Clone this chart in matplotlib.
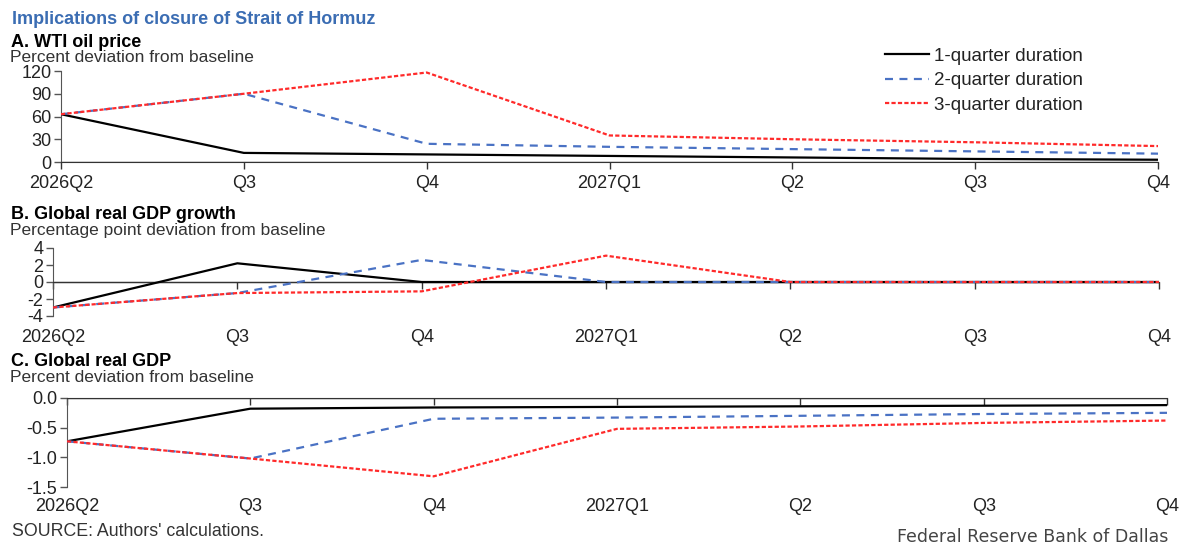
import matplotlib
matplotlib.use("Agg")
import matplotlib.pyplot as plt

plt.rcParams["font.family"] = ["Liberation Sans", "DejaVu Sans"]

quarters = ["2026Q2", "Q3", "Q4", "2027Q1", "Q2", "Q3", "Q4"]
series_names = ["1-quarter duration", "2-quarter duration", "3-quarter duration"]

# Panel A: WTI oil price, percent deviation from baseline
oil_1q = [63, 12, 10, 8, 6, 4, 3]
oil_2q = [63, 90, 24, 20, 17, 14, 11]
oil_3q = [63, 90, 118, 35, 30, 26, 21]

# Panel B: global real GDP growth, percentage point deviation from baseline
growth_1q = [-3.0, 2.2, 0.0, 0.0, 0.0, 0.0, 0.0]
growth_2q = [-3.0, -1.3, 2.6, 0.0, 0.0, 0.0, 0.0]
growth_3q = [-3.0, -1.3, -1.1, 3.1, 0.0, 0.0, 0.0]

# Panel C: global real GDP, percent deviation from baseline
gdp_1q = [-0.73, -0.18, -0.16, -0.15, -0.14, -0.13, -0.12]
gdp_2q = [-0.73, -1.02, -0.35, -0.33, -0.30, -0.27, -0.25]
gdp_3q = [-0.73, -1.02, -1.32, -0.52, -0.48, -0.42, -0.38]

oil_ticks = [0, 30, 60, 90, 120]
growth_ticks = [-4, -2, 0, 2, 4]
gdp_ticks = [-1.5, -1.0, -0.5, 0.0]

BLUE = "#4a72c4"
RED = "#ff2a2a"
TITLE_BLUE = "#3b6db3"
TEXT = "#222222"
AXIS = "#555555"

W, H = 1181, 546
fig = plt.figure(figsize=(W / 100, H / 100), dpi=100)


def px_axes(left, right, top, bottom):
    return fig.add_axes([left / W, 1 - bottom / H, (right - left) / W, (bottom - top) / H])


styles = [
    dict(color="black", lw=1.6, ls="-"),
    dict(color=BLUE, lw=1.6, ls=(0, (3.6, 2.9))),
    dict(color=RED, lw=1.6, ls=(0, (1.9, 1.0))),
]


def panel(ax, data, yticks, ylim, fmt, label_pad):
    x = list(range(len(quarters)))
    ax.axhline(0, color="#333333", lw=1.0, zorder=1)
    lines = []
    for vals, st in zip(data, styles):
        (ln,) = ax.plot(x, vals, zorder=3, **st)
        lines.append(ln)
    ax.set_xlim(0, len(quarters) - 1)
    ax.set_ylim(*ylim)
    ax.set_yticks(yticks)
    ax.set_yticklabels([fmt.format(v) for v in yticks])
    ax.set_xticks(x)
    ax.set_xticklabels(quarters)
    for s in ("top", "right"):
        ax.spines[s].set_visible(False)
    ax.spines["bottom"].set_position(("data", 0))
    ax.spines["bottom"].set_color("#333333")
    ax.spines["left"].set_color(AXIS)
    ax.tick_params(axis="y", direction="out", length=5, width=1, color=AXIS,
                   labelsize=13, labelcolor=TEXT, pad=2)
    ax.tick_params(axis="x", direction="out", length=5, width=1, color="#333333",
                   labelsize=13, labelcolor=TEXT, pad=label_pad)
    ax.patch.set_alpha(0)
    return lines


axA = px_axes(61, 1158, 71, 162)
lines = panel(axA, [oil_1q, oil_2q, oil_3q], oil_ticks, (0, 120), "{:.0f}", 4)

axB = px_axes(53, 1159, 248, 316)
panel(axB, [growth_1q, growth_2q, growth_3q], growth_ticks, (-4, 4), "{:.0f}", 29)

axC = px_axes(67, 1167, 398, 487)
panel(axC, [gdp_1q, gdp_2q, gdp_3q], gdp_ticks, (-1.5, 0.0), "{:.1f}", 67)

# Headings
fig.text(12 / W, 1 - 20 / H, "Implications of closure of Strait of Hormuz",
         color=TITLE_BLUE, fontsize=13, fontweight="bold", va="center")
for y_title, y_sub, title, sub in [
    (43, 58, "A. WTI oil price", "Percent deviation from baseline"),
    (215, 231, "B. Global real GDP growth", "Percentage point deviation from baseline"),
    (362, 378, "C. Global real GDP", "Percent deviation from baseline"),
]:
    fig.text(11 / W, 1 - y_title / H, title, color="black", fontsize=13,
             fontweight="bold", va="center")
    fig.text(10 / W, 1 - y_sub / H, sub, color="#333333", fontsize=12.5, va="center")

fig.legend(lines, series_names, loc="upper left",
           bbox_to_anchor=(868 / W, 1 - 31 / H), frameon=False, fontsize=13.5,
           handlelength=2.35, handletextpad=0.27, labelspacing=0.38,
           labelcolor=TEXT)

fig.text(12 / W, 1 - 532 / H, "SOURCE: Authors' calculations.", color="#333333",
         fontsize=12.8, va="center")
fig.text(1168 / W, 1 - 537 / H, "Federal Reserve Bank of Dallas", color="#444444",
         fontsize=12.5, va="center", ha="right", family=["DejaVu Sans"])

fig.savefig("out.png", dpi=100)
